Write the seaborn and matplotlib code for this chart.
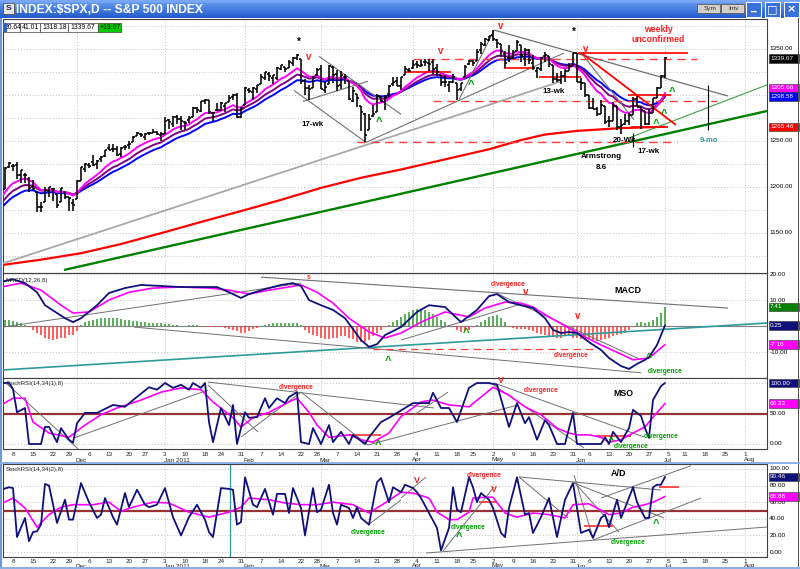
import numpy as np
import pandas as pd
import matplotlib
matplotlib.use("Agg")
import matplotlib.pyplot as plt
import matplotlib.transforms as mtrans
from matplotlib.patches import Rectangle
import seaborn as sns

sns.set_theme(style="white")
plt.rcParams["font.family"] = ["Liberation Sans", "DejaVu Sans"]

# ------------------------------------------------------------------ data
holidays = ["2010-11-25", "2010-12-24", "2011-01-17", "2011-02-21",
            "2011-04-22", "2011-05-30", "2011-07-04"]

# daily OHLC of the S&P 500, 3 Nov 2010 - 1 Jul 2011
open_nov = [1193.8,1198.3,1221.2,1223.2,1223.6,1213.1,1213.0,1209.1,1200.4,1194.8,1178.3,1183.8,1196.1,1198.1,1192.5,1183.7,1194.2,1189.1,1183.0]
high_nov = [1198.3,1221.3,1227.1,1224.6,1226.8,1218.8,1215.5,1210.5,1207.4,1194.8,1183.6,1200.3,1200.0,1198.9,1192.5,1198.6,1194.2,1189.1,1187.4]
low_nov  = [1183.6,1198.3,1220.3,1217.0,1208.9,1204.3,1204.5,1194.1,1197.2,1173.0,1173.0,1183.8,1189.4,1184.8,1176.9,1183.7,1186.9,1173.6,1174.1]
close_nov= [1198.0,1221.1,1225.9,1223.3,1213.4,1218.7,1213.5,1199.2,1197.8,1178.3,1178.6,1196.7,1199.7,1197.8,1180.7,1198.4,1189.4,1187.8,1180.6]

open_dec = [1186.6,1206.8,1219.9,1223.9,1227.3,1225.0,1230.1,1233.9,1242.5,1241.8,1241.6,1236.3,1243.6,1245.8,1249.4,1254.9,1257.5,1254.7,1259.1,1258.8,1259.4,1256.8]
high_dec = [1207.6,1221.9,1225.6,1225.8,1235.1,1228.9,1233.7,1240.4,1246.7,1246.6,1244.3,1243.8,1245.8,1250.2,1255.0,1259.4,1258.6,1258.4,1259.9,1262.6,1261.1,1259.3]
low_dec  = [1186.6,1206.8,1216.8,1220.7,1223.3,1219.5,1226.8,1232.6,1240.3,1238.2,1234.0,1232.9,1239.9,1241.5,1249.4,1254.9,1254.0,1251.5,1256.2,1258.8,1256.3,1250.2]
close_dec= [1206.1,1221.5,1224.7,1223.1,1223.8,1228.3,1233.0,1240.4,1240.5,1241.6,1235.2,1242.9,1243.9,1247.1,1254.6,1258.8,1256.8,1257.5,1258.5,1259.8,1257.9,1257.6]

open_jan = [1257.6,1272.9,1268.8,1276.3,1274.4,1270.8,1272.6,1275.7,1285.8,1282.9,1293.2,1294.5,1280.9,1283.6,1283.3,1288.2,1292.0,1297.5,1299.6,1276.5]
high_jan = [1276.2,1274.1,1277.6,1278.2,1276.8,1271.5,1277.3,1286.9,1286.7,1293.2,1296.1,1294.6,1281.4,1291.2,1291.9,1291.3,1299.7,1301.3,1302.7,1287.2]
low_jan  = [1257.6,1262.7,1265.4,1268.7,1261.7,1262.2,1269.6,1275.7,1280.5,1281.1,1290.2,1278.9,1271.3,1282.1,1282.5,1281.1,1292.0,1294.4,1275.1,1274.7]
close_jan= [1271.9,1270.2,1276.6,1273.9,1271.5,1269.8,1274.5,1286.0,1283.8,1293.2,1295.0,1281.9,1280.3,1283.4,1290.8,1291.2,1296.6,1299.5,1276.3,1286.1]

open_feb = [1289.1,1305.9,1302.8,1307.0,1311.9,1318.8,1322.5,1318.1,1318.7,1328.7,1330.4,1329.5,1334.4,1340.4,1338.9,1315.4,1307.1,1307.3,1321.6]
high_feb = [1308.9,1307.6,1308.6,1311.0,1322.9,1324.9,1324.5,1322.0,1330.8,1333.0,1330.4,1337.6,1341.5,1344.1,1338.9,1317.9,1310.9,1320.6,1329.4]
low_feb  = [1289.1,1302.6,1294.8,1301.7,1311.9,1316.0,1314.9,1311.7,1316.1,1326.9,1324.6,1329.5,1331.0,1338.1,1312.1,1299.6,1294.3,1307.3,1320.6]
close_feb= [1307.6,1304.0,1307.1,1310.9,1319.1,1324.6,1320.9,1321.9,1329.2,1332.3,1328.0,1336.3,1340.4,1343.0,1315.4,1307.4,1306.1,1319.9,1327.2]

open_mar = [1328.6,1305.5,1312.4,1330.7,1322.7,1311.1,1319.9,1315.7,1293.4,1301.2,1288.5,1279.5,1261.6,1276.7,1281.7,1298.3,1292.2,1300.6,1311.8,1315.5,1309.4,1321.9,1327.4]
high_mar = [1332.1,1314.2,1332.3,1331.1,1327.7,1325.7,1323.2,1315.7,1308.4,1301.2,1288.5,1280.9,1278.9,1288.9,1300.6,1299.4,1300.5,1311.3,1319.2,1319.7,1319.5,1331.7,1329.8]
low_mar  = [1306.1,1302.6,1312.4,1312.6,1304.0,1306.9,1312.3,1294.2,1292.0,1286.4,1261.1,1249.1,1261.6,1276.2,1281.7,1292.7,1284.1,1297.7,1310.2,1310.2,1305.3,1321.9,1325.0]
close_mar= [1306.3,1308.4,1331.0,1321.2,1310.1,1321.8,1320.0,1295.1,1304.3,1296.4,1281.9,1256.9,1273.7,1279.2,1298.4,1293.8,1298.0,1309.7,1313.8,1310.2,1319.4,1328.3,1325.8]

open_apr = [1329.5,1333.6,1332.0,1335.9,1334.8,1336.2,1329.0,1322.0,1314.0,1311.1,1314.5,1313.4,1306.0,1319.1,1333.2,1337.1,1336.8,1348.4,1353.9,1360.1]
high_apr = [1337.9,1336.7,1338.2,1339.4,1338.8,1339.5,1333.8,1322.0,1321.4,1315.0,1322.9,1313.4,1313.0,1332.7,1337.5,1337.6,1349.6,1357.5,1361.7,1364.6]
low_apr  = [1328.1,1329.1,1330.0,1331.1,1326.6,1322.9,1321.1,1309.5,1309.2,1302.8,1313.1,1294.7,1304.0,1319.1,1332.2,1331.7,1336.8,1344.3,1353.6,1358.7]
close_apr= [1332.4,1332.9,1332.6,1335.5,1333.5,1328.2,1324.5,1314.2,1314.4,1314.5,1319.7,1305.1,1312.6,1330.4,1337.4,1335.3,1347.2,1355.7,1360.5,1363.6]

open_may = [1365.2,1360.2,1355.9,1344.2,1340.2,1340.2,1348.3,1354.5,1339.4,1349.0,1334.8,1326.1,1328.5,1342.4,1342.0,1333.1,1317.7,1316.4,1320.6,1325.7,1331.1]
high_may = [1370.6,1361.2,1355.9,1348.0,1354.4,1349.4,1359.4,1354.5,1351.1,1350.5,1343.3,1330.4,1341.8,1346.8,1342.0,1333.1,1323.7,1325.9,1328.5,1334.6,1345.2]
low_may  = [1358.6,1351.6,1341.5,1329.2,1335.6,1338.6,1348.3,1336.4,1332.0,1333.4,1327.3,1318.5,1326.6,1336.1,1330.7,1312.6,1313.9,1311.8,1314.4,1325.7,1331.1]
close_may= [1361.2,1356.6,1347.3,1335.1,1340.2,1346.3,1357.2,1342.1,1348.7,1337.8,1329.5,1329.0,1340.7,1343.6,1333.3,1317.4,1316.3,1320.5,1325.7,1331.1,1345.2]

open_jun = [1345.2,1314.6,1312.9,1300.3,1286.3,1284.6,1279.6,1288.3,1271.3,1272.2,1287.9,1265.5,1268.6,1271.5,1278.4,1295.5,1286.6,1283.0,1268.4,1280.2,1296.9,1307.6]
high_jun = [1345.2,1318.0,1312.9,1300.3,1296.2,1287.0,1294.5,1288.3,1277.0,1292.5,1287.9,1274.1,1279.8,1280.4,1297.6,1298.6,1286.8,1283.0,1284.9,1296.8,1309.2,1322.0]
low_jun  = [1313.7,1305.6,1297.9,1284.5,1284.7,1277.4,1279.6,1268.3,1265.6,1272.2,1261.9,1258.1,1267.4,1267.6,1278.4,1286.8,1262.9,1267.2,1267.5,1280.2,1296.9,1307.6]
close_jun= [1314.6,1312.9,1300.2,1286.2,1284.9,1279.6,1289.0,1271.0,1271.8,1287.9,1265.4,1267.6,1271.5,1278.4,1295.5,1287.1,1283.5,1268.5,1280.1,1296.7,1307.4,1320.6]

open_jul, high_jul, low_jul, close_jul = [1320.64], [1341.01], [1318.18], [1339.67]

opens = open_nov + open_dec + open_jan + open_feb + open_mar + open_apr + open_may + open_jun + open_jul
highs = high_nov + high_dec + high_jan + high_feb + high_mar + high_apr + high_may + high_jun + high_jul
lows = low_nov + low_dec + low_jan + low_feb + low_mar + low_apr + low_may + low_jun + low_jul
closes = close_nov + close_dec + close_jan + close_feb + close_mar + close_apr + close_may + close_jun + close_jul

# EMA starting levels (read at the left edge of the chart)
ema_seed = {10: 1186.0, 15: 1180.0, 20: 1175.0}
last_ema = {"1305.66": 1307.6, "1298.58": 1298.58}

# 200-day moving average (red), read at sample sessions
ma200_s = [0, 10, 20, 30, 41, 50, 61, 70, 80, 90, 100, 110, 122, 130, 136, 144, 155, 166]
ma200_v = [1115, 1121, 1128, 1138, 1151, 1162, 1175, 1186, 1199, 1210, 1219, 1229, 1241, 1251, 1257, 1261, 1264, 1265.46]

# MACD(12,26,8)
macd_s = [0,3,6,9,11,14,16,18,20,24,27,31,35,40,45,50,54,57,60,62,66,70,73,75,77,80,83,86,90,92,94,96,100,
          104,107,111,115,119,122,124,127,130,133,136,138,140,142,144,147,150,152,155,157,159,161,162,164,166]
macd_v = [17,18,16.5,13,8,5,3,1.5,3,8,12.7,14.6,15.8,15.4,15,15,15,13,10.8,12.3,14.2,15.8,16.5,15.4,10,8,6.2,3,-5.4,-8,-7,-3.5,-0.4,
          5.4,8,7.3,1.5,6.2,11.5,12.3,9.2,8,6.9,3,-1.5,-2.7,-2.3,-2.7,-6.2,-9.2,-12.3,-15.4,-16.5,-14.6,-13,-12,-7.3,0.25]
sig_s = [0,5,10,15,18,22,27,32,38,45,52,57,62,67,75,79,83,87,92,96,100,105,111,117,121,126,130,133,137,142,146,150,155,158,162,166]
sig_v = [15,16.5,13.8,8,5,5.4,10,13,14.6,15,14.6,13.8,12.3,13.8,15.8,13,8.8,3,-2.3,-4.6,-2.7,1.5,5.4,3.5,6.9,9.2,8.8,7.3,3.5,-0.8,-4.2,-7.3,-10.8,-13,-12.3,-7.16]
hist_a = [2,2.5,2.5,2,1.5,1,0.5]
hist_b = [-0.5,-1.5,-2.5,-3.5,-4.5,-5,-5.5,-5,-4.5,-4.5,-3.5,-3.5,-2]
hist_c = [0.5,1.5,2,2.5,2.8,3,3,3.2,3.2,3,2.8,2.5,2.2,2,1.8,1.5,1.5,1.2,1.2,1.0,1.0]
hist_d = [0.8,0.6,0.5,0.3,0.2,0.2,0.3,0.5,0.3,0,-0.3,-0.5,-0.5,-0.3,-0.5,-0.8,-1,-1.5,-2,-2.5]
hist_e = [-2.5,-1.8,-1.2,-0.8,0.2,0.5,0.8,1,1.2,1.3,1.2,1.2,1.2,1.0,0.5]
hist_f = [-1.5,-2.5,-3.5,-4,-4.5,-5,-5,-4.5,-4.5,-4,-4,-4.5,-5,-6,-6,-6,-5.5,-4,-2.5,-1.5,-0.5,0.5]
hist_g = [1.5,2.5,3.5,4.5,5.5,6,6.5,6.5,6,5.5,4.5,3.5,2.5,1.5,0.5]
hist_h = [-0.5,-1.5,-2.3,-2,-1.5,-0.5]
hist_i = [0.5,1.5,2.5,3.5,4,4.2,3,1.5]
hist_j = [-0.5,-0.8,-1,-1,-1.2,-1.5,-2,-2.5,-3,-3.5,-4,-4,-4.5,-4.5,-4,-4,-4.5,-4.5,-5,-5,-5.5,-5.5,-5.8,-5.5,-5,-4.5,-4,-3.5,-3,-2.5,-1.5,-0.5]
hist_k = [1,1.5,1,1.5,2.5,3.5,5,7.41]
macd_hist = hist_a + hist_b + hist_c + hist_d + hist_e + hist_f + hist_g + hist_h + hist_i + hist_j + hist_k

# MSO  StochRSI(14,34(1),8)
mso_s = [0,2,3,4,6,7,10,11,12,14,15,17,18,19,21,24,28,31,33,37,39,41,43,45,47,48,50,51,52,53,55,57,58,59,61,62,64,66,67,69,71,72,74,75,77,78,80,82,83,85,87,88,91,92,95,97,100,
         103,107,108,110,112,114,117,119,122,124,127,129,131,132,134,136,137,139,141,143,144,150,151,152,153,155,156,157,158,160,161,162,163,165,166]
mso_v = [100,100,90,52,59,0,0,28,28,3,26,7,2,34,51,51,64,61,72,93,89,100,92,97,89,100,92,100,36,3,59,31,64,0,52,43,44,75,59,75,67,77,85,3,0,26,0,31,3,20,0,15,0,11,36,43,55,
         67,67,84,59,59,36,92,100,100,97,28,67,34,44,7,39,31,0,0,51,0,0,11,0,20,3,15,26,56,46,26,10,72,95,100]
msosig_s = [0,3,6,8,12,17,21,25,29,35,40,45,50,53,58,60,63,67,72,74,77,79,82,87,90,93,97,100,
            105,108,112,117,120,123,127,131,135,139,142,144,147,150,152,155,158,161,163,166]
msosig_v = [64,75,75,36,18,11,31,48,59,72,85,92,89,69,43,28,43,52,69,75,52,31,11,15,7,3,18,45,
            69,72,64,61,77,93,80,61,48,26,18,15,15,11,3,7,18,28,44,66.33]

# A/D  StochRSI(14,34(2),8)
ad_s = [0,2,3,4,6,7,8,9,10,11,12,14,16,17,18,20,22,24,25,26,28,29,31,32,34,36,37,39,41,43,45,47,49,51,52,53,55,57,58,59,60,61,63,64,66,68,69,71,72,73,75,76,78,79,80,82,83,84,85,87,88,89,90,92,94,95,97,98,100,
        101,103,104,105,107,109,110,112,113,114,115,117,118,119,120,122,123,125,126,127,129,131,132,133,135,137,139,141,143,145,147,148,150,151,152,154,155,156,158,159,161,162,163,164,165,166]
ad_v = [75,78,77,18,41,13,24,25,33,82,80,35,63,39,39,83,60,41,45,65,42,33,71,54,75,57,54,57,77,42,20,42,57,39,24,18,77,76,75,33,36,90,57,54,76,45,70,70,47,77,53,20,77,48,51,81,47,33,57,53,41,54,41,33,84,89,60,78,72,
        81,77,72,65,47,29,2,29,78,51,48,90,78,60,71,63,53,23,18,53,90,45,47,23,42,65,18,63,83,23,27,17,41,45,30,63,41,53,78,60,41,41,78,81,81,90.46]
adsig_s = [0,3,6,9,12,15,18,23,27,30,33,38,42,47,52,57,60,62,67,71,75,79,83,88,92,96,100,
           103,107,109,112,114,117,118,121,123,126,129,133,137,141,143,147,152,155,158,161,163,166]
adsig_v = [58,65,53,30,45,54,57,57,60,49,54,60,59,48,42,48,54,65,63,59,57,57,60,57,47,59,72,
           71,65,48,39,39,48,65,66,66,47,42,47,45,41,57,58,45,47,54,57,60,66.88]

# ------------------------------------------------------------------ calendar
days = pd.bdate_range("2010-11-03", "2011-08-12")
days = days[~days.isin(pd.to_datetime(holidays))]
n = len(closes)
sess = np.arange(n)
wk = days.to_period("W")
mo = days.to_period("M")
week_starts = [i for i in range(1, len(days)) if wk[i] != wk[i - 1] and i <= 189]
month_starts = [i for i in range(1, len(days)) if mo[i] != mo[i - 1] and i <= 189]

cl = pd.Series(closes)
def ema(span):
    s = pd.concat([pd.Series([ema_seed[span]]), cl], ignore_index=True)
    return s.ewm(span=span, adjust=False).mean().iloc[1:].to_numpy()
ema10, ema15, ema20 = ema(10), ema(15), ema(20)

# ------------------------------------------------------------------ figure
W, H = 800, 569
fig = plt.figure(figsize=(W / 100, H / 100), dpi=100)
fig.patch.set_facecolor("white")

def ax_px(x0, y0, x1, y1):
    return fig.add_axes([x0 / W, 1 - y1 / H, (x1 - x0) / W, (y1 - y0) / H])

XL = (0.5, 191.5)
GRID = "#c4c4c4"
NAVY = "#10107a"
MAG = "#ff00ff"
GRAY = "#707070"
BROWN = "#993333"
TEAL = "#2e9a9a"
GREEN_T = "#00a000"
RED_T = "#ff2020"

def style(ax, ylim, yt):
    ax.set_xlim(*XL)
    ax.set_ylim(*ylim)
    ax.set_facecolor("white")
    ax.set_xticks(month_starts)
    ax.set_yticks(yt)
    ax.tick_params(length=0, labelleft=False, labelbottom=False)
    ax.grid(True, ls=(0, (1, 2)), color=GRID, lw=0.7)
    for sp in ax.spines.values():
        sp.set_color("#404040")
        sp.set_linewidth(0.8)
    ax.set_xlabel("")
    ax.set_ylabel("")

def rtext(ax, y, txt):
    ax.text(1.003, y, txt, transform=ax.get_yaxis_transform(), ha="left", va="center",
            fontsize=4.6, color="black", clip_on=False, zorder=20)

def rbox(ax, y, txt, fc, ppu, tc="white"):
    tr = ax.get_yaxis_transform()
    h = 8.5 / ppu
    ax.add_patch(Rectangle((1.002, y - h / 2), 0.0405, h, transform=tr, fc=fc, ec="#303030",
                           lw=0.4, clip_on=False, zorder=21))
    ax.text(1.004, y, txt, transform=tr, ha="left", va="center", fontsize=4.6, color=tc,
            clip_on=False, zorder=22)

def seg(ax, pts, color=GRAY, lw=0.7, ls="-"):
    (s0, v0), (s1, v1) = pts
    ax.plot([s0, s1], [v0, v1], color=color, lw=lw, ls=ls, solid_capstyle="butt", zorder=4)

def note(ax, s, v, txt, color, size, bold=True):
    ax.text(s, v, txt, color=color, fontsize=size, ha="center", va="center",
            fontweight="bold" if bold else "normal", zorder=9, clip_on=False)

# ---------------- main price panel
axP = ax_px(3, 19, 767, 273)
style(axP, (1106.5, 1382.6), np.arange(1125, 1381, 25))
sns.lineplot(x=ma200_s, y=ma200_v, color="#ff0000", lw=1.6, ax=axP, zorder=3)
sns.lineplot(x=sess, y=ema20, color="#0000ff", lw=1.4, ax=axP, zorder=3)
sns.lineplot(x=sess, y=ema15, color="#800080", lw=1.4, ax=axP, zorder=3)
sns.lineplot(x=sess, y=ema10, color=MAG, lw=1.4, ax=axP, zorder=3)
axP.vlines(sess, lows, highs, color="black", lw=1.15, zorder=5)
axP.hlines(opens, sess - 0.5, sess, color="black", lw=1.15, zorder=5)
axP.hlines(closes, sess, sess + 0.5, color="black", lw=1.15, zorder=5)

main_lines = [  # ((session, price), (session, price)), colour, width, style
    (((0.5, 1117.0), (140.0, 1314.8)), "#a8a8a8", 1.3, "-"),
    (((15.75, 1109.8), (191.5, 1282.6)), "#008000", 1.7, "-"),
    (((156.75, 1253.0), (191.5, 1311.0)), "#40a040", 0.8, "-"),
    (((91.25, 1248.5), (140.75, 1345.6)), GRAY, 0.8, "-"),
    (((79.5, 1342.0), (100.0, 1279.0)), GRAY, 0.8, "-"),
    (((73.25, 1305.0), (91.25, 1248.5)), GRAY, 0.8, "-"),
    (((75.5, 1293.0), (91.75, 1315.0)), GRAY, 0.8, "-"),
    (((114.5, 1295.0), (123.25, 1370.0)), GRAY, 0.8, "-"),
    (((123.25, 1370.6), (181.75, 1298.9)), GRAY, 0.9, "-"),
    (((145.0, 1346.0), (158.25, 1273.0)), GRAY, 0.8, "-"),
    (((145.0, 1346.0), (168.75, 1267.4)), "#ff0000", 1.3, "-"),
    (((89.0, 1249.0), (169.0, 1249.0)), "#ff4040", 1.0, (0, (6, 4))),
    (((103.0, 1339.0), (174.0, 1339.0)), "#ff4040", 1.0, (0, (6, 4))),
    (((108.0, 1294.0), (179.0, 1294.0)), "#ff4040", 1.0, (0, (6, 4))),
    (((101.0, 1325.0), (112.5, 1325.0)), "#ff0000", 1.2, "-"),
    (((125.75, 1329.3), (133.25, 1329.3)), "#ff0000", 1.2, "-"),
    (((134.5, 1319.6), (145.0, 1319.6)), "#ff0000", 1.2, "-"),
    (((144.25, 1345.7), (171.75, 1345.7)), "#ff0000", 1.2, "-"),
    (((156.75, 1300.0), (167.5, 1300.0)), "#ff0000", 1.2, "-"),
    (((157.5, 1265.2), (166.75, 1265.2)), "#ff0000", 1.2, "-"),
    (((176.75, 1311.0), (176.75, 1262.0)), "black", 0.8, "-"),
    (((158.0, 1258.7), (158.0, 1243.5)), "black", 0.8, "-"),
]
for pts, c, w, ls in main_lines:
    seg(axP, pts, c, w, ls)

main_notes = [
    (74.5, 1357.6, "*", "black", 7), (77.0, 1341.0, "v", RED_T, 7),
    (78.0, 1267.4, "17-wk", "black", 5.8), (94.5, 1270.7, "^", GREEN_T, 8),
    (110.0, 1347.5, "v", RED_T, 7), (117.5, 1311.0, "^", GREEN_T, 8),
    (125.0, 1375.0, "v", RED_T, 7), (143.25, 1368.5, "*", "black", 7),
    (146.25, 1350.0, "v", RED_T, 7), (164.25, 1371.7, "weekly", RED_T, 6.3),
    (164.25, 1359.8, "unconfirmed", RED_T, 6.3), (138.25, 1304.3, "13-wk", "black", 5.8),
    (167.75, 1303.0, "^", GREEN_T, 8), (165.75, 1279.0, "^", GREEN_T, 8),
    (163.75, 1268.5, "^", GREEN_T, 8), (177.0, 1251.0, "9-mo", TEAL, 5.6),
    (156.0, 1251.0, "20-Wk", "black", 5.8), (162.0, 1239.0, "17-wk", "black", 5.8),
    (150.0, 1232.6, "Armstrong", "black", 5.8), (150.0, 1220.7, "8.6", "black", 5.8),
]
for s_, v_, t_, c_, z_ in main_notes:
    note(axP, s_, v_, t_, c_, z_)

for v in (1350, 1250, 1200, 1150):
    rtext(axP, v, f"{v:.2f}")
rbox(axP, closes[-1], f"{closes[-1]:.2f}", "black", 0.92)
rbox(axP, last_ema["1305.66"], "1305.66", MAG, 0.92)
rbox(axP, last_ema["1298.58"], "1298.58", "#0000ff", 0.92)
rbox(axP, ma200_v[-1], f"{ma200_v[-1]:.2f}", "#ff0000", 0.92)

# ---------------- MACD panel
axM = ax_px(3, 273, 767, 378)
style(axM, (-20.0, 20.4), [-10, 0, 10, 20])
hist = np.array(macd_hist)
axM.vlines(np.arange(len(hist)), 0, hist, colors=np.where(hist >= 0, "#2a9a2a", "#ff3030"), lw=1.1, zorder=3)
axM.axhline(0, color="#808080", lw=0.8, zorder=2)
macd_lines = [
    (((0.5, -16.9), (191.5, 1.15)), TEAL, 1.2, "-"),
    (((0.5, -0.4), (75.0, 16.5)), GRAY, 0.7, "-"),
    (((65.0, 18.8), (181.75, 6.9)), GRAY, 0.8, "-"),
    (((33.25, -0.4), (160.0, -18.0)), GRAY, 0.7, "-"),
    (((124.25, 12.3), (160.0, -13.0)), GRAY, 0.7, "-"),
    (((100.0, -5.4), (130.75, 8.8)), GRAY, 0.7, "-"),
    (((93.0, -8.8), (148.0, -8.8)), "#ff4040", 0.9, (0, (6, 4))),
]
for pts, c, w, ls in macd_lines:
    seg(axM, pts, c, w, ls)
sns.lineplot(x=sig_s, y=sig_v, color=MAG, lw=1.2, ax=axM, zorder=5)
sns.lineplot(x=macd_s, y=macd_v, color=NAVY, lw=1.3, ax=axM, zorder=6)
macd_notes = [
    (126.75, 15.8, "divergence", RED_T, 4.8), (131.25, 13.0, "v", RED_T, 7),
    (156.75, 13.5, "MACD", "black", 6.5), (144.25, 3.8, "v", RED_T, 7),
    (116.25, -2.7, "^", GREEN_T, 8), (142.5, -11.5, "divergence", RED_T, 4.8),
    (161.8, -12.4, "^", GREEN_T, 7), (166.0, -17.6, "divergence", GREEN_T, 4.8),
    (96.75, -13.5, "^", GREEN_T, 8), (77.0, 18.6, "s", RED_T, 5),
]
for s_, v_, t_, c_, z_ in macd_notes:
    note(axM, s_, v_, t_, c_, z_)
axM.text(0.003, 0.95, "MACD(12,26,8)", transform=axM.transAxes, fontsize=4.4, va="top", ha="left", zorder=10)
for v in (20, 10, -10):
    rtext(axM, v, f"{v:.2f}")
rbox(axM, 7.41, "7.41", "#008000", 2.6)
rbox(axM, macd_v[-1], f"{macd_v[-1]:.2f}", NAVY, 2.6)
rbox(axM, sig_v[-1], f"{sig_v[-1]:.2f}", MAG, 2.6)

# ---------------- MSO panel
axS = ax_px(3, 378, 767, 449)
style(axS, (-8.2, 108.2), [0, 50, 100])
axS.axhline(50, color=BROWN, lw=1.6, zorder=2)
mso_lines = [
    (((1.75, 97.0), (19.25, -8.0)), GRAY), (((18.25, 10.0), (51.75, 88.5)), GRAY),
    (((51.75, 101.6), (108.25, 59.0)), GRAY), (((51.75, 96.7), (64.25, 19.7)), GRAY),
    (((60.0, 11.5), (75.0, 85.0)), GRAY), (((75.0, 85.0), (91.75, -1.6)), GRAY),
    (((91.75, -1.6), (129.25, 64.0)), GRAY), (((103.25, 47.5), (111.75, 85.0)), GRAY),
    (((123.25, 96.7), (145.75, -6.6)), GRAY), (((123.25, 100.0), (160.75, 11.5)), GRAY),
]
for pts, c in mso_lines:
    seg(axS, pts, c, 0.7)
seg(axS, ((86.75, 15.0), (95.0, 15.0)), "#ff3030", 1.2)
seg(axS, ((148.75, 13.0), (157.5, 13.0)), "#ff3030", 1.2)
sns.lineplot(x=msosig_s, y=msosig_v, color=MAG, lw=1.2, ax=axS, zorder=5)
sns.lineplot(x=mso_s, y=mso_v, color=NAVY, lw=1.3, ax=axS, zorder=6)
mso_notes = [
    (73.75, 93.4, "divergence", RED_T, 4.8), (94.25, -1.0, "^", GREEN_T, 8),
    (125.0, 104.0, "V", RED_T, 6.5), (135.0, 87.0, "divergence", RED_T, 4.8),
    (155.5, 83.6, "MSO", "black", 6.3), (165.0, 11.5, "divergence", GREEN_T, 4.8),
    (152.5, 4.0, "^", GREEN_T, 8), (157.5, -4.5, "divergence", GREEN_T, 4.8),
]
for s_, v_, t_, c_, z_ in mso_notes:
    note(axS, s_, v_, t_, c_, z_)
axS.text(0.003, 0.96, "StochRSI(14,34(1),8)", transform=axS.transAxes, fontsize=4.4, va="top", ha="left", zorder=10)
rtext(axS, 50, "50.00")
rtext(axS, 0, "0.00")
rbox(axS, mso_v[-1], f"{mso_v[-1]:.2f}", NAVY, 0.61)
rbox(axS, msosig_v[-1], f"{msosig_v[-1]:.2f}", MAG, 0.61)

# ---------------- A/D panel
axA = ax_px(3, 464, 767, 557)
style(axA, (-6.0, 106.0), [0, 20, 40, 60, 80, 100])
axA.axhline(50, color=BROWN, lw=1.6, zorder=2)
axA.axvline(57.25, color=TEAL, lw=0.9, zorder=2)
ad_lines = [
    ((91.75, 32.5), (100.0, 62.7)), ((100.0, 65.0), (106.25, 90.4)),
    ((110.5, 1.2), (123.25, 78.3)), ((129.5, 90.4), (141.75, 41.0)),
    ((129.5, 90.4), (165.0, 74.7)), ((143.25, 84.3), (154.5, 24.0)),
    ((143.25, 92.8), (148.0, 16.9)), ((143.25, 83.0), (165.75, 41.0)),
    ((150.0, 65.0), (172.5, 104.0)), ((148.0, 14.5), (175.0, 65.0)),
    ((106.25, -1.2), (191.5, 30.1)),
]
for pts in ad_lines:
    seg(axA, pts, GRAY, 0.7)
seg(axA, ((119.5, 60.0), (123.75, 60.0)), "#ff3030", 1.2)
seg(axA, ((145.75, 31.3), (153.0, 31.3)), "#ff3030", 1.2)
seg(axA, ((164.5, 78.3), (169.5, 78.3)), "#ff3030", 1.2)
sns.lineplot(x=adsig_s, y=adsig_v, color=MAG, lw=1.2, ax=axA, zorder=5)
sns.lineplot(x=ad_s, y=ad_v, color=NAVY, lw=1.3, ax=axA, zorder=6)
ad_notes = [
    (154.5, 94.0, "A/D", "black", 6.5), (104.0, 86.0, "V", RED_T, 6.5),
    (120.75, 91.6, "divergence", RED_T, 4.8), (123.25, 75.5, "V", RED_T, 6.5),
    (116.75, 30.0, "divergence", GREEN_T, 4.8), (114.5, 18.5, "^", GREEN_T, 8),
    (156.75, 12.0, "divergence", GREEN_T, 4.8), (163.75, 34.0, "^", GREEN_T, 8),
    (91.75, 24.0, "divergence", GREEN_T, 4.8),
]
for s_, v_, t_, c_, z_ in ad_notes:
    note(axA, s_, v_, t_, c_, z_)
axA.text(0.003, 0.97, "StochRSI(14,34(2),8)", transform=axA.transAxes, fontsize=4.4, va="top", ha="left", zorder=10)
for v in (100, 80, 60, 40, 20, 0):
    rtext(axA, v, f"{v:.2f}")
rbox(axA, ad_v[-1], f"{ad_v[-1]:.2f}", NAVY, 0.83)
rbox(axA, adsig_v[-1], f"{adsig_v[-1]:.2f}", MAG, 0.83)

# ---------------- date labels
def date_row(ax, y_day, y_mon):
    tr = mtrans.blended_transform_factory(ax.transData, fig.transFigure)
    for i in week_starts:
        ax.text(i, 1 - y_day / H, str(days[i].day), transform=tr, ha="center", va="center",
                fontsize=4.6, clip_on=False)
    for i in month_starts:
        lab = days[i].strftime("%b")
        if days[i].month == 1:
            lab += days[i].strftime(" %Y")
        ax.text(i - 0.3, 1 - y_mon / H, lab, transform=tr, ha="left", va="center",
                fontsize=4.6, clip_on=False)
date_row(axS, 454.5, 460)
date_row(axA, 561.5, 566)

# ---------------- window chrome
axO = fig.add_axes([0, 0, 1, 1], zorder=30)
axO.set_xlim(0, W)
axO.set_ylim(H, 0)
axO.axis("off")
grad = np.linspace(0, 1, 18)[:, None, None]
top = np.array([0.42, 0.62, 0.95])
bot = np.array([0.13, 0.36, 0.80])
img = top * (1 - grad) + bot * grad
img[:3] = img[:3] * 0.7 + 0.3 * np.array([0.6, 0.75, 1.0])
axO.imshow(np.repeat(img, 2, axis=1), extent=[0, W, 18, 0], aspect="auto", zorder=1)
axO.add_patch(Rectangle((3, 3), 11, 11, fc="#e8e8e8", ec="#404040", lw=0.5, zorder=2))
axO.text(8.5, 8.8, "S", fontsize=6, fontweight="bold", ha="center", va="center", color="#202060", zorder=3)
axO.text(16, 9.5, "INDEX:$SPX,D -- S&P 500 INDEX", color="white", fontsize=8.7,
         fontweight="bold", ha="left", va="center", zorder=3)
for x0, lab in ((697, "Sym"), (721, "Intv")):
    axO.add_patch(Rectangle((x0, 3.5), 23, 9, fc="#d4d0c8", ec="#505050", lw=0.5, zorder=2))
    axO.text(x0 + 13, 8, lab, fontsize=4.6, ha="center", va="center", color="#303030", zorder=3)
for x0, glyph in ((746, "_"), (765, "□"), (784, "×")):
    axO.add_patch(Rectangle((x0, 1.5), 15, 15, fc="#3a70dc", ec="white", lw=0.7, zorder=2))
    axO.text(x0 + 7.5, 9 if glyph != "_" else 6.5, glyph, fontsize=8, fontweight="bold",
             ha="center", va="center", color="white", zorder=3, family="DejaVu Sans")
# legend boxes of the price panel
boxes = [(3, 20, f"{opens[-1]:.2f}"[2:], "white"), (20, 40, f"{highs[-1]:.2f}"[2:], "white"),
         (40, 68, f"{lows[-1]:.2f}", "white"), (68, 98, f"{closes[-1]:.2f}", "white"),
         (98, 121, f"+{closes[-1] - closes[-2]:.2f}", "#00cc00")]
for x0, x1, t, fc in boxes:
    axO.add_patch(Rectangle((x0, 22.5), x1 - x0, 9.5, fc=fc, ec="#404040", lw=0.5, zorder=2))
    axO.text(x0 + 2, 27.3, t, fontsize=4.9, ha="left", va="center", color="black", zorder=3)
axO.add_patch(Rectangle((3, 22.5), 4, 9.5, fc="#3060c0", ec="none", zorder=3))
# frame lines
axO.add_patch(Rectangle((0, 18), 2, H - 18, fc="#6f95dc", ec="none", zorder=2))
axO.add_patch(Rectangle((797.5, 18), 1.2, H - 18, fc="#505050", ec="none", zorder=2))
axO.add_patch(Rectangle((0, 462), W, 1.6, fc="#8fb0e6", ec="none", zorder=2))
axO.add_patch(Rectangle((0, 566.8), W, 2.2, fc="#8fb0e6", ec="none", zorder=2))

fig.savefig("out.png", dpi=100, facecolor="white")
